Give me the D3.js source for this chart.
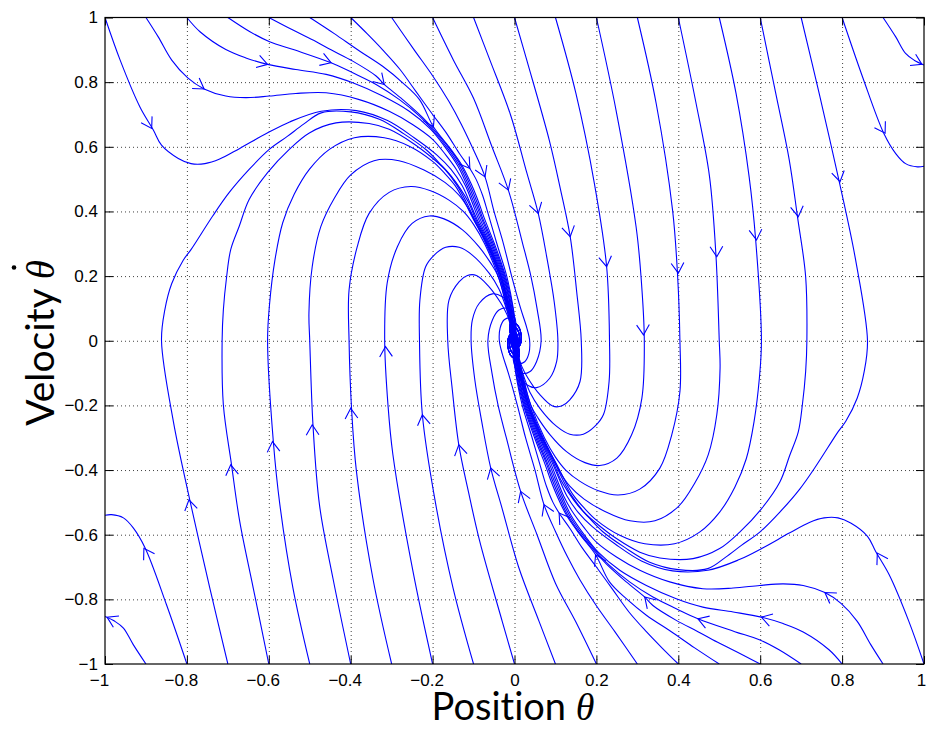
<!DOCTYPE html>
<html><head><meta charset="utf-8">
<script src="https://cdn.jsdelivr.net/npm/d3@7"></script>
<style>body{margin:0;background:#fff} text{font-variant-ligatures:none;font-feature-settings:"liga" 0,"clig" 0;}</style></head>
<body><svg id="chart" width="927" height="729"></svg>
<script>
// ---------- data ----------
const xTickValues = [-1,-0.8,-0.6,-0.4,-0.2,0,0.2,0.4,0.6,0.8,1];
const yTickValues = [-1,-0.8,-0.6,-0.4,-0.2,0,0.2,0.4,0.6,0.8,1];
const xTickLabels = ["\u22121","\u22120.8","\u22120.6","\u22120.4","\u22120.2","0","0.2","0.4","0.6","0.8","1"];
const yTickLabels = ["\u22121","\u22120.8","\u22120.6","\u22120.4","\u22120.2","0","0.2","0.4","0.6","0.8","1"];
const xTitle = "Position";
const yTitle = "Velocity";
const symbolName = "\u03b8";

const spiralDownA = [[0.004,0],[0.012,-0.035],[0.008,-0.055],[-0.006,-0.05],[-0.016,-0.02],[-0.014,0.012],[-0.004,0.025],[0.006,0.012],[0.007,-0.012],[0,-0.02],[-0.006,-0.006],[-0.002,0.004],[0,0]];
const spiralDownB = [[0.003,0],[0.009,-0.026],[0.006,-0.041],[-0.005,-0.038],[-0.012,-0.015],[-0.011,0.009],[-0.003,0.019],[0.005,0.009],[0.005,-0.009],[0,-0.015],[-0.005,-0.005],[0,0]];
const spiralDownC = [[0.002,0],[0.006,-0.018],[0.004,-0.028],[-0.003,-0.025],[-0.008,-0.01],[-0.007,0.006],[-0.002,0.012],[0.003,0.006],[0.003,-0.006],[0,-0.01],[0,0]];
const spiralUpA = [[-0.004,0],[-0.012,0.035],[-0.008,0.055],[0.006,0.05],[0.016,0.02],[0.014,-0.012],[0.004,-0.025],[-0.006,-0.012],[-0.007,0.012],[0,0.02],[0.006,0.006],[0.002,-0.004],[0,0]];
const spiralUpB = [[-0.003,0],[-0.009,0.026],[-0.006,0.041],[0.005,0.038],[0.012,0.015],[0.011,-0.009],[0.003,-0.019],[-0.005,-0.009],[-0.005,0.009],[0,0.015],[0.005,0.005],[0,0]];
const spiralUpC = [[-0.002,0],[-0.006,0.018],[-0.004,0.028],[0.003,0.025],[0.008,0.01],[0.007,-0.006],[0.002,-0.012],[-0.003,-0.006],[-0.003,0.006],[0,0.01],[0,0]];

// streamlines starting on the top edge (velocity = 1), theta0 = -1.0 ... 0.9
const topStreamlines = [
 [[-1,1],[-0.963,0.868],[-0.915,0.724],[-0.882,0.652],[-0.862,0.605],[-0.821,0.564],[-0.79,0.548],[-0.756,0.548],[-0.72,0.562],[-0.671,0.595],[-0.606,0.641],[-0.549,0.677],[-0.472,0.71],[-0.386,0.712],[-0.31,0.681],[-0.245,0.628],[-0.19,0.575],[-0.155,0.53],[-0.128,0.48],[-0.11,0.43],[-0.093,0.38],[-0.063,0.3],[-0.032,0.2],[-0.012,0.1],[-0.004,0.05],...spiralDownA],
 [[-0.9,1],[-0.87,0.94],[-0.837,0.868],[-0.798,0.813],[-0.758,0.779],[-0.705,0.757],[-0.656,0.752],[-0.599,0.757],[-0.534,0.765],[-0.46,0.767],[-0.379,0.746],[-0.306,0.71],[-0.249,0.669],[-0.2,0.623],[-0.168,0.575],[-0.142,0.53],[-0.12,0.48],[-0.104,0.43],[-0.089,0.38],[-0.061,0.3],[-0.03,0.2],[-0.011,0.1],[-0.004,0.05],...spiralDownB],
 [[-0.8,1],[-0.768,0.956],[-0.705,0.901],[-0.656,0.875],[-0.603,0.855],[-0.534,0.839],[-0.46,0.824],[-0.395,0.798],[-0.322,0.757],[-0.257,0.71],[-0.205,0.655],[-0.17,0.6],[-0.138,0.54],[-0.116,0.48],[-0.1,0.43],[-0.085,0.38],[-0.058,0.3],[-0.028,0.2],[-0.009,0.1],[-0.003,0.05],...spiralDownC],
 [[-0.7,1],[-0.646,0.956],[-0.598,0.925],[-0.538,0.9],[-0.448,0.86],[-0.395,0.829],[-0.338,0.793],[-0.281,0.746],[-0.232,0.695],[-0.195,0.645],[-0.166,0.6],[-0.134,0.54],[-0.112,0.48],[-0.096,0.43],[-0.081,0.38],[-0.055,0.3],[-0.026,0.2],[-0.008,0.1],[-0.002,0.05],...spiralDownA],
 [[-0.6,1],[-0.541,0.961],[-0.484,0.925],[-0.448,0.9],[-0.395,0.865],[-0.338,0.819],[-0.318,0.793],[-0.273,0.746],[-0.224,0.69],[-0.188,0.64],[-0.162,0.6],[-0.13,0.54],[-0.108,0.48],[-0.092,0.43],[-0.078,0.38],[-0.052,0.3],[-0.024,0.2],[-0.006,0.1],[0,0.05],...spiralDownB],
 [[-0.5,1],[-0.44,0.95],[-0.383,0.9],[-0.322,0.849],[-0.273,0.798],[-0.232,0.746],[-0.198,0.662],[-0.16,0.6],[-0.127,0.54],[-0.104,0.48],[-0.088,0.43],[-0.074,0.38],[-0.049,0.3],[-0.022,0.2],[-0.004,0.1],[0.001,0.05],...spiralDownC],
 [[-0.4,1],[-0.36,0.95],[-0.322,0.9],[-0.28,0.84],[-0.24,0.77],[-0.2,0.7],[-0.165,0.64],[-0.135,0.58],[-0.109,0.533],[-0.094,0.5],[-0.078,0.45],[-0.066,0.4],[-0.043,0.3],[-0.019,0.2],[-0.003,0.1],[0.002,0.05],...spiralDownA],
 [[-0.3,1],[-0.245,0.9],[-0.2,0.82],[-0.16,0.74],[-0.13,0.67],[-0.1,0.59],[-0.072,0.507],[-0.05,0.4],[-0.027,0.3],[-0.007,0.2],[0.015,0.1],[0.03,0.04],[0.037,0],[0.035,-0.04],[0.025,-0.065],[0.01,-0.07],[0,-0.055],...spiralUpC],
 [[-0.2,1],[-0.149,0.868],[-0.1,0.75],[-0.055,0.6],[-0.015,0.466],[0.02,0.3],[0.04,0.2],[0.055,0.1],[0.065,0],[0.054,-0.064],[0.038,-0.095],[0.017,-0.1],[0,-0.074],[-0.004,-0.04],...spiralUpB],
 [[-0.1,1],[-0.06,0.868],[-0.01,0.7],[0.03,0.52],[0.058,0.394],[0.08,0.25],[0.097,0.12],[0.106,0],[0.103,-0.064],[0.086,-0.116],[0.054,-0.145],[0.03,-0.136],[0.009,-0.105],[0.011,-0.05],...spiralUpC],
 [[0,1],[0.03,0.868],[0.085,0.62],[0.112,0.47],[0.136,0.322],[0.152,0.15],[0.163,0],[0.16,-0.126],[0.135,-0.183],[0.115,-0.202],[0.093,-0.202],[0.062,-0.167],[0.033,-0.116],[0.018,-0.08],[0.01,-0.05],...spiralUpA],
 [[0.1,1],[0.15,0.765],[0.195,0.487],[0.225,0.229],[0.232,0],[0.231,-0.126],[0.217,-0.229],[0.196,-0.265],[0.168,-0.289],[0.135,-0.289],[0.103,-0.265],[0.062,-0.209],[0.038,-0.16],[0.02,-0.1],[0.009,-0.05],...spiralUpB],
 [[0.2,1],[0.248,0.713],[0.297,0.352],[0.309,0.198],[0.317,0],[0.311,-0.178],[0.286,-0.291],[0.25,-0.363],[0.208,-0.386],[0.172,-0.377],[0.127,-0.343],[0.087,-0.291],[0.058,-0.24],[0.04,-0.2],[0.019,-0.1],[0.009,-0.05],...spiralUpC],
 [[0.3,1],[0.346,0.734],[0.386,0.404],[0.398,0.208],[0.404,0],[0.404,-0.157],[0.384,-0.291],[0.355,-0.394],[0.306,-0.459],[0.253,-0.477],[0.205,-0.464],[0.16,-0.435],[0.125,-0.4],[0.1,-0.36],[0.073,-0.3],[0.04,-0.2],[0.017,-0.1],[0.008,-0.05],...spiralUpA],
 [[0.4,1],[0.443,0.737],[0.476,0.51],[0.492,0.263],[0.5,0],[0.502,-0.085],[0.494,-0.229],[0.473,-0.353],[0.44,-0.441],[0.4,-0.513],[0.343,-0.557],[0.282,-0.557],[0.221,-0.528],[0.17,-0.49],[0.135,-0.45],[0.113,-0.41],[0.097,-0.37],[0.07,-0.3],[0.037,-0.2],[0.016,-0.1],[0.007,-0.05],...spiralUpB],
 [[0.5,1],[0.541,0.765],[0.573,0.507],[0.589,0.311],[0.603,0],[0.598,-0.115],[0.585,-0.25],[0.566,-0.365],[0.538,-0.453],[0.501,-0.53],[0.452,-0.592],[0.391,-0.628],[0.318,-0.628],[0.257,-0.602],[0.2,-0.555],[0.172,-0.52],[0.145,-0.48],[0.122,-0.43],[0.102,-0.38],[0.068,-0.3],[0.036,-0.2],[0.015,-0.1],[0.006,-0.05],...spiralUpC],
 [[0.6,1],[0.638,0.765],[0.671,0.559],[0.691,0.384],[0.711,0.198],[0.714,0],[0.711,-0.095],[0.703,-0.198],[0.693,-0.282],[0.672,-0.355],[0.648,-0.437],[0.603,-0.52],[0.55,-0.592],[0.501,-0.643],[0.436,-0.674],[0.355,-0.672],[0.306,-0.654],[0.249,-0.612],[0.205,-0.57],[0.17,-0.53],[0.14,-0.48],[0.118,-0.43],[0.099,-0.38],[0.067,-0.3],[0.034,-0.2],[0.014,-0.1],[0.006,-0.05],...spiralUpA],
 [[0.7,1],[0.744,0.765],[0.793,0.492],[0.833,0.25],[0.862,0],[0.854,-0.095],[0.837,-0.177],[0.809,-0.249],[0.79,-0.282],[0.737,-0.386],[0.697,-0.458],[0.648,-0.53],[0.599,-0.592],[0.554,-0.633],[0.515,-0.67],[0.472,-0.705],[0.4,-0.708],[0.33,-0.685],[0.27,-0.64],[0.215,-0.59],[0.18,-0.545],[0.155,-0.51],[0.132,-0.47],[0.113,-0.43],[0.096,-0.38],[0.065,-0.3],[0.033,-0.2],[0.013,-0.1],[0.005,-0.05],...spiralUpB],
 [[0.8,1],[0.85,0.816],[0.902,0.641],[0.931,0.579],[0.955,0.548],[0.984,0.538],[1,0.54]],
 [[0.9,1],[0.931,0.94],[0.955,0.889],[0.976,0.868],[1,0.853]]
];
const topArrows = [[-0.886,0.657],[-0.758,0.779],[-0.603,0.855],[-0.448,0.86],[-0.318,0.793],[-0.198,0.662],[-0.109,0.533],[-0.072,0.507],[-0.015,0.466],[0.058,0.394],[0.136,0.322],[0.225,0.229],[0.315,0.018],[0.4,0.209],[0.494,0.26],[0.591,0.312],[0.693,0.384],[0.795,0.492],[0.905,0.642],[0.995,0.855]];

// streamlines starting on the bottom edge (velocity = -1), theta0 = -0.9 ... 1.0
const bottomStreamlines = [
 [[-0.9,-1],[-0.931,-0.94],[-0.955,-0.889],[-0.976,-0.868],[-1,-0.853]],
 [[-0.8,-1],[-0.85,-0.816],[-0.902,-0.641],[-0.931,-0.579],[-0.955,-0.548],[-0.984,-0.538],[-1,-0.54]],
 [[-0.7,-1],[-0.744,-0.765],[-0.793,-0.492],[-0.833,-0.25],[-0.862,0],[-0.854,0.095],[-0.837,0.177],[-0.809,0.249],[-0.79,0.282],[-0.737,0.386],[-0.697,0.458],[-0.648,0.53],[-0.599,0.592],[-0.554,0.633],[-0.515,0.67],[-0.472,0.705],[-0.4,0.708],[-0.33,0.685],[-0.27,0.64],[-0.215,0.59],[-0.18,0.545],[-0.155,0.51],[-0.132,0.47],[-0.113,0.43],[-0.096,0.38],[-0.065,0.3],[-0.033,0.2],[-0.013,0.1],[-0.005,0.05],...spiralDownB],
 [[-0.6,-1],[-0.638,-0.765],[-0.671,-0.559],[-0.691,-0.384],[-0.711,-0.198],[-0.714,0],[-0.711,0.095],[-0.703,0.198],[-0.693,0.282],[-0.672,0.355],[-0.648,0.437],[-0.603,0.52],[-0.55,0.592],[-0.501,0.643],[-0.436,0.674],[-0.355,0.672],[-0.306,0.654],[-0.249,0.612],[-0.205,0.57],[-0.17,0.53],[-0.14,0.48],[-0.118,0.43],[-0.099,0.38],[-0.067,0.3],[-0.034,0.2],[-0.014,0.1],[-0.006,0.05],...spiralDownA],
 [[-0.5,-1],[-0.541,-0.765],[-0.573,-0.507],[-0.589,-0.311],[-0.603,0],[-0.598,0.115],[-0.585,0.25],[-0.566,0.365],[-0.538,0.453],[-0.501,0.53],[-0.452,0.592],[-0.391,0.628],[-0.318,0.628],[-0.257,0.602],[-0.2,0.555],[-0.172,0.52],[-0.145,0.48],[-0.122,0.43],[-0.102,0.38],[-0.068,0.3],[-0.036,0.2],[-0.015,0.1],[-0.006,0.05],...spiralDownC],
 [[-0.4,-1],[-0.443,-0.737],[-0.476,-0.51],[-0.492,-0.263],[-0.5,0],[-0.502,0.085],[-0.494,0.229],[-0.473,0.353],[-0.44,0.441],[-0.4,0.513],[-0.343,0.557],[-0.282,0.557],[-0.221,0.528],[-0.17,0.49],[-0.135,0.45],[-0.113,0.41],[-0.097,0.37],[-0.07,0.3],[-0.037,0.2],[-0.016,0.1],[-0.007,0.05],...spiralDownB],
 [[-0.3,-1],[-0.346,-0.734],[-0.386,-0.404],[-0.398,-0.208],[-0.404,0],[-0.404,0.157],[-0.384,0.291],[-0.355,0.394],[-0.306,0.459],[-0.253,0.477],[-0.205,0.464],[-0.16,0.435],[-0.125,0.4],[-0.1,0.36],[-0.073,0.3],[-0.04,0.2],[-0.017,0.1],[-0.008,0.05],...spiralDownA],
 [[-0.2,-1],[-0.248,-0.713],[-0.297,-0.352],[-0.309,-0.198],[-0.317,0],[-0.311,0.178],[-0.286,0.291],[-0.25,0.363],[-0.208,0.386],[-0.172,0.377],[-0.127,0.343],[-0.087,0.291],[-0.058,0.24],[-0.04,0.2],[-0.019,0.1],[-0.009,0.05],...spiralDownC],
 [[-0.1,-1],[-0.15,-0.765],[-0.195,-0.487],[-0.225,-0.229],[-0.232,0],[-0.231,0.126],[-0.217,0.229],[-0.196,0.265],[-0.168,0.289],[-0.135,0.289],[-0.103,0.265],[-0.062,0.209],[-0.038,0.16],[-0.02,0.1],[-0.009,0.05],...spiralDownB],
 [[0,-1],[-0.03,-0.868],[-0.085,-0.62],[-0.112,-0.47],[-0.136,-0.322],[-0.152,-0.15],[-0.163,0],[-0.16,0.126],[-0.135,0.183],[-0.115,0.202],[-0.093,0.202],[-0.062,0.167],[-0.033,0.116],[-0.018,0.08],[-0.01,0.05],...spiralDownA],
 [[0.1,-1],[0.06,-0.868],[0.01,-0.7],[-0.03,-0.52],[-0.058,-0.394],[-0.08,-0.25],[-0.097,-0.12],[-0.106,0],[-0.103,0.064],[-0.086,0.116],[-0.054,0.145],[-0.03,0.136],[-0.009,0.105],[-0.011,0.05],...spiralDownC],
 [[0.2,-1],[0.149,-0.868],[0.1,-0.75],[0.055,-0.6],[0.015,-0.466],[-0.02,-0.3],[-0.04,-0.2],[-0.055,-0.1],[-0.065,0],[-0.054,0.064],[-0.038,0.095],[-0.017,0.1],[0,0.074],[0.004,0.04],...spiralDownB],
 [[0.3,-1],[0.245,-0.9],[0.2,-0.82],[0.16,-0.74],[0.13,-0.67],[0.1,-0.59],[0.072,-0.507],[0.05,-0.4],[0.027,-0.3],[0.007,-0.2],[-0.015,-0.1],[-0.03,-0.04],[-0.037,0],[-0.035,0.04],[-0.025,0.065],[-0.01,0.07],[0,0.055],...spiralDownC],
 [[0.4,-1],[0.36,-0.95],[0.322,-0.9],[0.28,-0.84],[0.24,-0.77],[0.2,-0.7],[0.165,-0.64],[0.135,-0.58],[0.109,-0.533],[0.094,-0.5],[0.078,-0.45],[0.066,-0.4],[0.043,-0.3],[0.019,-0.2],[0.003,-0.1],[-0.002,-0.05],...spiralUpA],
 [[0.5,-1],[0.44,-0.95],[0.383,-0.9],[0.322,-0.849],[0.273,-0.798],[0.232,-0.746],[0.198,-0.662],[0.16,-0.6],[0.127,-0.54],[0.104,-0.48],[0.088,-0.43],[0.074,-0.38],[0.049,-0.3],[0.022,-0.2],[0.004,-0.1],[-0.001,-0.05],...spiralUpC],
 [[0.6,-1],[0.541,-0.961],[0.484,-0.925],[0.448,-0.9],[0.395,-0.865],[0.338,-0.819],[0.318,-0.793],[0.273,-0.746],[0.224,-0.69],[0.188,-0.64],[0.162,-0.6],[0.13,-0.54],[0.108,-0.48],[0.092,-0.43],[0.078,-0.38],[0.052,-0.3],[0.024,-0.2],[0.006,-0.1],[0,-0.05],...spiralUpB],
 [[0.7,-1],[0.646,-0.956],[0.598,-0.925],[0.538,-0.9],[0.448,-0.86],[0.395,-0.829],[0.338,-0.793],[0.281,-0.746],[0.232,-0.695],[0.195,-0.645],[0.166,-0.6],[0.134,-0.54],[0.112,-0.48],[0.096,-0.43],[0.081,-0.38],[0.055,-0.3],[0.026,-0.2],[0.008,-0.1],[0.002,-0.05],...spiralUpA],
 [[0.8,-1],[0.768,-0.956],[0.705,-0.901],[0.656,-0.875],[0.603,-0.855],[0.534,-0.839],[0.46,-0.824],[0.395,-0.798],[0.322,-0.757],[0.257,-0.71],[0.205,-0.655],[0.17,-0.6],[0.138,-0.54],[0.116,-0.48],[0.1,-0.43],[0.085,-0.38],[0.058,-0.3],[0.028,-0.2],[0.009,-0.1],[0.003,-0.05],...spiralUpC],
 [[0.9,-1],[0.87,-0.94],[0.837,-0.868],[0.798,-0.813],[0.758,-0.779],[0.705,-0.757],[0.656,-0.752],[0.599,-0.757],[0.534,-0.765],[0.46,-0.767],[0.379,-0.746],[0.306,-0.71],[0.249,-0.669],[0.2,-0.623],[0.168,-0.575],[0.142,-0.53],[0.12,-0.48],[0.104,-0.43],[0.089,-0.38],[0.061,-0.3],[0.03,-0.2],[0.011,-0.1],[0.004,-0.05],...spiralUpB],
 [[1,-1],[0.963,-0.868],[0.915,-0.724],[0.882,-0.652],[0.862,-0.605],[0.821,-0.564],[0.79,-0.548],[0.756,-0.548],[0.72,-0.562],[0.671,-0.595],[0.606,-0.641],[0.549,-0.677],[0.472,-0.71],[0.386,-0.712],[0.31,-0.681],[0.245,-0.628],[0.19,-0.575],[0.155,-0.53],[0.128,-0.48],[0.11,-0.43],[0.093,-0.38],[0.063,-0.3],[0.032,-0.2],[0.012,-0.1],[0.004,-0.05],...spiralUpA]
];
const bottomArrows = [[-0.995,-0.855],[-0.905,-0.642],[-0.795,-0.492],[-0.693,-0.384],[-0.591,-0.312],[-0.494,-0.26],[-0.4,-0.209],[-0.315,-0.018],[-0.225,-0.229],[-0.136,-0.322],[-0.058,-0.394],[0.015,-0.466],[0.072,-0.507],[0.109,-0.533],[0.198,-0.662],[0.318,-0.793],[0.448,-0.86],[0.603,-0.855],[0.758,-0.779],[0.886,-0.657]];

// ---------- drawing ----------
const svg = d3.select("#chart");
svg.append("rect").attr("width",927).attr("height",729).attr("fill","#fff");
const L = 105, R = 924, T = 17.5, B = 664;
const x = d3.scaleLinear().domain([-1,1]).range([L,R]);
const y = d3.scaleLinear().domain([-1,1]).range([B,T]);
const tickFont = "'Liberation Sans', Arial, Helvetica, sans-serif";

// dotted grid
const gridX = svg.append("g").attr("transform",`translate(0,${B})`)
  .call(d3.axisBottom(x).tickValues(xTickValues.slice(1,-1)).tickSize(-(B-T)).tickFormat(""));
const gridY = svg.append("g").attr("transform",`translate(${L},0)`)
  .call(d3.axisLeft(y).tickValues(yTickValues.slice(1,-1)).tickSize(-(R-L)).tickFormat(""));
[gridX, gridY].forEach(g => {
  g.select(".domain").remove();
  g.selectAll("line").attr("stroke","#000").attr("stroke-opacity",0.75).attr("stroke-dasharray","1,3");
});

// streamlines
svg.append("defs").append("clipPath").attr("id","plotclip")
  .append("rect").attr("x",L).attr("y",T).attr("width",R-L).attr("height",B-T);
const lineGen = d3.line().x(d=>x(d[0])).y(d=>y(d[1])).curve(d3.curveCatmullRom.alpha(0.5));
const plotG = svg.append("g").attr("clip-path","url(#plotclip)");
const allCurves = topStreamlines.concat(bottomStreamlines);
const allArrows = topArrows.concat(bottomArrows);
plotG.selectAll("path.stream").data(allCurves).join("path")
  .attr("class","stream").attr("d",lineGen)
  .attr("fill","none").attr("stroke","#0000ff").attr("stroke-width",1.1).attr("stroke-linejoin","round");

function arrowPath(curve, pt){
  const P = curve.map(d=>[x(d[0]),y(d[1])]);
  const tip = [x(pt[0]),y(pt[1])];
  let best = Infinity, dir = [0,1];
  for(let i=0;i<P.length-1;i++){
    const a=P[i], b=P[i+1], dx=b[0]-a[0], dy=b[1]-a[1], L2=dx*dx+dy*dy;
    if(!L2) continue;
    let t=((tip[0]-a[0])*dx+(tip[1]-a[1])*dy)/L2; t=Math.max(0,Math.min(1,t));
    const px=a[0]+t*dx, py=a[1]+t*dy, dd=(px-tip[0])**2+(py-tip[1])**2;
    if(dd<best){best=dd; const l=Math.sqrt(L2); dir=[dx/l,dy/l];}
  }
  const ang=Math.atan2(dir[1],dir[0]), len=12, half=32*Math.PI/180;
  const w1=[tip[0]-len*Math.cos(ang-half), tip[1]-len*Math.sin(ang-half)];
  const w2=[tip[0]-len*Math.cos(ang+half), tip[1]-len*Math.sin(ang+half)];
  return `M${w1[0]},${w1[1]}L${tip[0]},${tip[1]}L${w2[0]},${w2[1]}`;
}
plotG.selectAll("path.arrow").data(allArrows).join("path")
  .attr("class","arrow").attr("d",(d,i)=>arrowPath(allCurves[i], d))
  .attr("fill","none").attr("stroke","#0000ff").attr("stroke-width",1.1);

// axes (inward ticks on all four sides)
function styleAxis(g){ g.select(".domain").remove(); g.selectAll(".tick line").attr("stroke","#000"); }
const axB = svg.append("g").attr("transform",`translate(0,${B})`)
  .call(d3.axisBottom(x).tickValues(xTickValues).tickFormat((d,i)=>xTickLabels[i]).tickSizeInner(-8).tickSizeOuter(0).tickPadding(10));
const axL = svg.append("g").attr("transform",`translate(${L},0)`)
  .call(d3.axisLeft(y).tickValues(yTickValues).tickFormat((d,i)=>yTickLabels[i]).tickSizeInner(-8).tickSizeOuter(0).tickPadding(7));
const axT = svg.append("g").attr("transform",`translate(0,${T})`)
  .call(d3.axisTop(x).tickValues(xTickValues).tickFormat("").tickSizeInner(-8).tickSizeOuter(0));
const axR = svg.append("g").attr("transform",`translate(${R},0)`)
  .call(d3.axisRight(y).tickValues(yTickValues).tickFormat("").tickSizeInner(-8).tickSizeOuter(0));
[axB,axL,axT,axR].forEach(styleAxis);
[axB,axL].forEach(g => g.attr("font-size",17).attr("font-family",tickFont));
axB.selectAll(".tick text").attr("fill","#000").attr("dx",d=> d<0 ? -6 : (d===1 ? -3 : 0));
axL.selectAll(".tick text").attr("fill","#000");

// frame
svg.append("rect").attr("x",L).attr("y",T).attr("width",R-L).attr("height",B-T)
  .attr("fill","none").attr("stroke","#000").attr("stroke-width",1.2);

// axis titles
const titleFont = "Lato, 'Open Sans', 'DejaVu Sans', sans-serif";
const symFont = "'Liberation Serif', 'DejaVu Serif', serif";
const xt = svg.append("text").attr("x",513).attr("y",720).attr("text-anchor","middle")
  .attr("font-family",titleFont).attr("font-size",38).attr("fill","#000");
xt.append("tspan").text(xTitle + " ");
xt.append("tspan").attr("font-family",symFont).attr("font-style","italic").text(symbolName);

const yg = svg.append("g").attr("transform","translate(54,343) rotate(-90)");
const yt = yg.append("text").attr("x",0).attr("y",0).attr("text-anchor","middle")
  .attr("font-family",titleFont).attr("font-size",39).attr("fill","#000");
yt.append("tspan").text(yTitle + " ");
yt.append("tspan").attr("font-family",symFont).attr("font-style","italic").text(symbolName);
try {
  const n = yt.node(); const k = n.getNumberOfChars()-1; const e = n.getExtentOfChar(k);
  yg.append("circle").attr("cx", e.x + e.width*0.62).attr("cy", -40).attr("r", 2.3).attr("fill","#000");
} catch(err) {}
</script>
</body></html>
